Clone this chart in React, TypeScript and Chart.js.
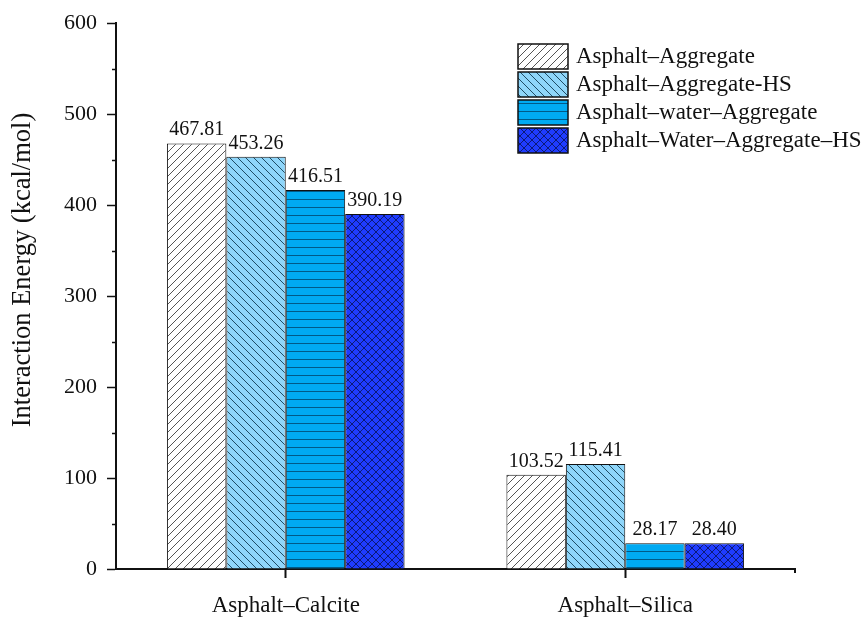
import React, { useEffect, useRef } from "react";
import { Chart, registerables } from "chart.js";

Chart.register(...registerables);

const categories = ["Asphalt–Calcite", "Asphalt–Silica"];
const seriesNames = [
  "Asphalt–Aggregate",
  "Asphalt–Aggregate-HS",
  "Asphalt–water–Aggregate",
  "Asphalt–Water–Aggregate–HS",
];
const aggregateValues = [467.81, 103.52];
const aggregateHSValues = [453.26, 115.41];
const waterAggregateValues = [416.51, 28.17];
const waterAggregateHSValues = [390.19, 28.4];
const yTicks = [0, 100, 200, 300, 400, 500, 600];
const yMinorTicks = [50, 150, 250, 350, 450, 550];
const yTitle = "Interaction Energy (kcal/mol)";

const FONT = "'Liberation Serif', 'Times New Roman', serif";

function makePattern(kind: string, bg: string, line: string): CanvasPattern | string {
  const s = 8;
  const c = document.createElement("canvas");
  c.width = s;
  c.height = s;
  const g = c.getContext("2d");
  if (!g) return bg;
  g.fillStyle = bg;
  g.fillRect(0, 0, s, s);
  g.strokeStyle = line;
  g.lineWidth = 1;
  g.beginPath();
  if (kind === "fwd" || kind === "cross") {
    g.moveTo(-1, s + 1);
    g.lineTo(s + 1, -1);
    g.moveTo(-2, 2);
    g.lineTo(2, -2);
    g.moveTo(s - 2, s + 2);
    g.lineTo(s + 2, s - 2);
  }
  if (kind === "back" || kind === "cross") {
    g.moveTo(-1, -1);
    g.lineTo(s + 1, s + 1);
    g.moveTo(s - 2, -2);
    g.lineTo(s + 2, 2);
    g.moveTo(-2, s - 2);
    g.lineTo(2, s + 2);
  }
  if (kind === "horiz") {
    g.moveTo(0, s - 0.5);
    g.lineTo(s, s - 0.5);
  }
  g.stroke();
  const p = g.createPattern(c, "repeat");
  return p || bg;
}

export default function App() {
  const ref = useRef<HTMLCanvasElement | null>(null);

  useEffect(() => {
    if (!ref.current) return;
    const fills = [
      makePattern("fwd", "#ffffff", "#555555"),
      makePattern("back", "#8fd6fa", "#1f4d66"),
      makePattern("horiz", "#00aaf2", "#005a88"),
      makePattern("cross", "#1f3cff", "#0c1a78"),
    ];
    const seriesValues = [
      aggregateValues,
      aggregateHSValues,
      waterAggregateValues,
      waterAggregateHSValues,
    ];

    const extras = {
      id: "extras",
      afterDraw(chart: any) {
        const ctx = chart.ctx;
        const y = chart.scales.y;
        const left = chart.chartArea.left;
        ctx.save();
        ctx.strokeStyle = "#111";
        ctx.lineWidth = 1.5;
        ctx.beginPath();
        for (const v of yMinorTicks) {
          const py = Math.round(y.getPixelForValue(v)) + 0.5;
          ctx.moveTo(left - 4, py);
          ctx.lineTo(left, py);
        }
        ctx.stroke();
        const bottom = chart.chartArea.bottom;
        const right = chart.chartArea.right;
        ctx.lineWidth = 2;
        ctx.beginPath();
        ctx.moveTo(right, bottom);
        ctx.lineTo(right, bottom + 4);
        ctx.stroke();
        // y-axis title
        ctx.translate(23, 270);
        ctx.rotate(-Math.PI / 2);
        ctx.fillStyle = "#111";
        ctx.font = `26.5px ${FONT}`;
        ctx.textAlign = "center";
        ctx.textBaseline = "middle";
        ctx.fillText(yTitle, 0, 0);
        ctx.restore();
      },
    };

    const valueLabels = {
      id: "valueLabels",
      afterDatasetsDraw(chart: any) {
        const ctx = chart.ctx;
        ctx.save();
        ctx.font = `20px ${FONT}`;
        ctx.fillStyle = "#111";
        ctx.textAlign = "center";
        ctx.textBaseline = "alphabetic";
        chart.data.datasets.forEach((ds: any, i: number) => {
          const meta = chart.getDatasetMeta(i);
          meta.data.forEach((el: any, j: number) => {
            ctx.fillText(Number(ds.data[j]).toFixed(2), el.x, el.y - 8);
          });
        });
        ctx.restore();
      },
    };

    const customLegend = {
      id: "customLegend",
      afterDraw(chart: any) {
        const ctx = chart.ctx;
        ctx.save();
        chart.data.datasets.forEach((ds: any, i: number) => {
          const bx = 518;
          const by = 44 + i * 28;
          ctx.fillStyle = ds.backgroundColor;
          ctx.fillRect(bx, by, 50, 25);
          ctx.strokeStyle = "#111";
          ctx.lineWidth = 1.5;
          ctx.strokeRect(bx, by, 50, 25);
          ctx.fillStyle = "#111";
          ctx.font = `23px ${FONT}`;
          ctx.textAlign = "left";
          ctx.textBaseline = "middle";
          ctx.fillText(ds.label, 576, by + 13);
        });
        ctx.restore();
      },
    };

    const chart = new Chart(ref.current, {
      type: "bar",
      data: {
        labels: categories,
        datasets: seriesNames.map((name, i) => ({
          label: name,
          data: seriesValues[i],
          backgroundColor: fills[i] as any,
          borderColor: "#111",
          borderWidth: 1,
          categoryPercentage: 0.7,
          barPercentage: 1.0,
        })),
      },
      options: {
        animation: false,
        responsive: false,
        maintainAspectRatio: false,
        layout: { padding: { top: 23, right: 70, left: 0, bottom: 0 } },
        plugins: {
          legend: { display: false },
          tooltip: { enabled: false },
        },
        scales: {
          x: {
            type: "category",
            offset: true,
            grid: {
              offset: false,
              drawOnChartArea: false,
              drawTicks: true,
              tickLength: 9,
              tickWidth: 2,
              tickColor: "#111",
            },
            border: { color: "#111", width: 2 },
            ticks: {
              color: "#111",
              font: { family: FONT, size: 23 },
              padding: 14,
            },
            afterFit(scale: any) {
              scale.height = 51;
            },
          },
          y: {
            min: 0,
            max: 600,
            afterBuildTicks(scale: any) {
              scale.ticks = yTicks.map((v) => ({ value: v }));
            },
            grid: {
              drawOnChartArea: false,
              drawTicks: true,
              tickLength: 9,
              tickWidth: 1.5,
              tickColor: "#111",
            },
            border: { color: "#111", width: 2 },
            ticks: {
              color: "#111",
              font: { family: FONT, size: 22 },
              padding: 10,
            },
            afterFit(scale: any) {
              scale.width = 116;
            },
          },
        },
      },
      plugins: [extras, valueLabels, customLegend],
    });
    return () => chart.destroy();
  }, []);

  return (
    <div style={{ position: "fixed", left: 0, top: 0, width: 865, height: 620, background: "#fff" }}>
      <canvas ref={ref} width={865} height={620} style={{ width: 865, height: 620 }} />
    </div>
  );
}
